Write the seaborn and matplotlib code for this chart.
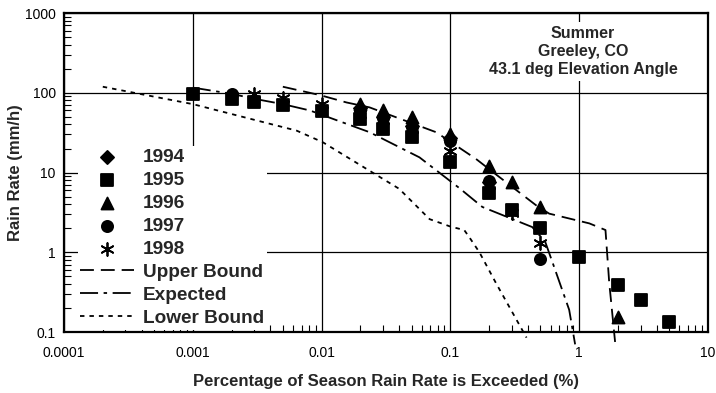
import numpy as np
import pandas as pd
import seaborn as sns
import matplotlib
matplotlib.use("Agg")
from matplotlib import pyplot as plt

# measured points, percentage of season exceeded vs rain rate (mm/h)
pct_1994 = [0.02, 0.03, 0.05, 0.1, 0.2]
rate_1994 = [64, 50, 38, 27, 7.6]
pct_1995 = [0.001, 0.002, 0.003, 0.005, 0.01, 0.02, 0.03, 0.05, 0.1, 0.2, 0.3, 0.5, 1, 2, 3, 5]
rate_1995 = [96, 84, 76, 71, 59, 47, 35.5, 27.5, 13.4, 5.5, 3.4, 2.0, 0.88, 0.39, 0.25, 0.135]
pct_1996 = [0.02, 0.03, 0.05, 0.1, 0.2, 0.3, 0.5, 2]
rate_1996 = [72, 60, 50, 30, 12.2, 7.5, 3.65, 0.155]
pct_1997 = [0.002, 0.02, 0.03, 0.05, 0.1, 0.2, 0.5]
rate_1997 = [96, 60, 48, 37, 25, 7.8, 0.82]
pct_1998 = [0.003, 0.005, 0.01, 0.02, 0.03, 0.05, 0.1, 0.2, 0.3, 0.5]
rate_1998 = [97, 87, 72, 54, 46, 35, 18.8, 7.0, 3.1, 1.3]

# model curves
pct_upper = [0.005, 0.0097, 0.0156, 0.0236, 0.0775, 0.158, 0.231, 0.461, 0.585, 1.2, 1.6, 1.71, 1.9]
rate_upper = [119, 93.5, 75.6, 65.5, 32, 14.8, 9.2, 3.9, 3.05, 2.3, 1.9, 0.42, 0.075]
pct_expected = [0.001, 0.002, 0.003, 0.005, 0.0081, 0.0236, 0.0575, 0.117, 0.177, 0.287, 0.432, 0.545, 0.651, 0.836, 0.93]
rate_expected = [116, 97, 84, 72, 60, 32, 15.5, 6.4, 3.7, 2.7, 2.07, 1.35, 0.6, 0.19, 0.07]
pct_lower = [0.0002, 0.001, 0.0064, 0.0102, 0.04, 0.069, 0.1, 0.128, 0.14, 0.168, 0.226, 0.39]
rate_lower = [119, 72, 33.5, 24, 6.25, 2.6, 2.1, 1.9, 1.55, 1.0, 0.41, 0.085]

sns.set_style("white")
plt.rcParams['font.family'] = ['Liberation Sans', 'DejaVu Sans']
plt.rcParams['lines.scale_dashes'] = False

fig = plt.figure(figsize=(7.16, 3.93), dpi=100)
ax = fig.add_axes([0.0894, 0.1552, 0.8994, 0.8117])

series = [
    ("1994", pct_1994, rate_1994, "D", 45),
    ("1995", pct_1995, rate_1995, "s", 75),
    ("1996", pct_1996, rate_1996, "^", 75),
    ("1997", pct_1997, rate_1997, "o", 65),
    ("1998", pct_1998, rate_1998, (6, 2, 0), 85),
]
for name, xs, ys, mk, sz in series:
    sns.scatterplot(x=xs, y=ys, marker=mk, s=sz, color="black", edgecolor="black",
                    linewidth=1.3, label=name, ax=ax, zorder=4)

curves = [
    ("Upper Bound", pct_upper, rate_upper, (0, (10, 5))),
    ("Expected", pct_expected, rate_expected, (0, (13, 4, 2.5, 4))),
    ("Lower Bound", pct_lower, rate_lower, (0, (3.2, 3.6))),
]
for name, xs, ys, ls in curves:
    sns.lineplot(x=xs, y=ys, sort=False, estimator=None, color="black", linewidth=1.3,
                 linestyle=ls, label=name, ax=ax, clip_on=False, zorder=3)

ax.set_xscale("log")
ax.set_yscale("log")
ax.set_xlim(0.0001, 10)
ax.set_ylim(0.1, 1000)
ax.set_xticks([0.0001, 0.001, 0.01, 0.1, 1, 10])
ax.set_xticklabels(["0.0001", "0.001", "0.01", "0.1", "1", "10"])
ax.set_yticks([0.1, 1, 10, 100, 1000])
ax.set_yticklabels(["0.1", "1", "10", "100", "1000"])
ax.grid(True, which="major", color="black", linewidth=0.9)
ax.tick_params(which="both", direction="in", bottom=True, left=True, top=False, right=False,
               labelsize=10, colors="black")
ax.tick_params(axis="x", which="major", length=0, pad=10)
ax.tick_params(axis="y", which="major", length=0, pad=6)
ax.tick_params(which="minor", length=5, width=0.8)
for sp in ax.spines.values():
    sp.set_linewidth(1.6)
    sp.set_color("black")
ax.set_axisbelow(True)

ax.set_xlabel("Percentage of Season Rain Rate is Exceeded (%)", fontsize=12, fontweight="bold", labelpad=10)
ax.set_ylabel("Rain Rate (mm/h)", fontsize=12, fontweight="bold", labelpad=1)

ax.text(0.806, 0.96, "Summer\nGreeley, CO\n43.1 deg Elevation Angle", transform=ax.transAxes,
        ha="center", va="top", fontsize=11.5, fontweight="bold", linespacing=1.25,
        bbox=dict(facecolor="white", edgecolor="none", pad=3), zorder=6)

leg = ax.legend(loc="upper left", bbox_to_anchor=(0.021, 0.584), frameon=True, framealpha=1,
                facecolor="white", edgecolor="none", fancybox=False,
                prop={"size": 13.7, "weight": "bold"}, handlelength=2.8, handletextpad=0.5,
                labelspacing=0.3, borderpad=0.15, borderaxespad=0.0)

fig.savefig("out.png", dpi=100)
